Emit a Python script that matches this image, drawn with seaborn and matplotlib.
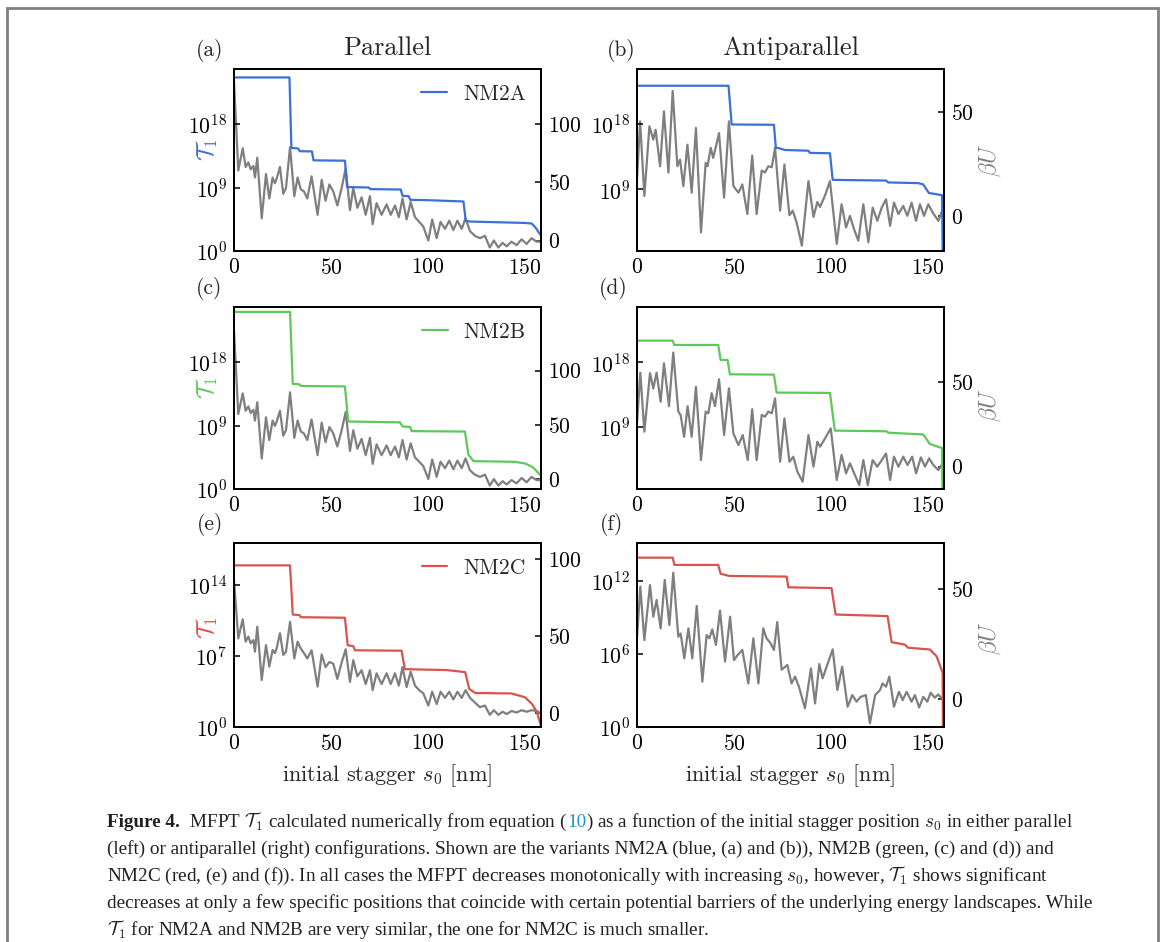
import numpy as np
import pandas as pd
import seaborn as sns
import matplotlib
matplotlib.use("Agg")
import matplotlib.pyplot as plt
from matplotlib.patches import Rectangle
from matplotlib.ticker import FixedLocator, NullLocator, LogFormatterSciNotation

# ---------------- data ----------------
# MFPT T1 step curves (s0 in nm, T1)
s_a = [0, 28.6, 29.6, 33.0, 34.0, 40.2, 41.0, 57.2, 58.3, 69.5, 70.3, 86.0, 86.9, 90.0, 90.9, 100, 118.3, 119.5, 121.5, 150, 153.5, 155.5, 157, 158.3]
T_a = [4.0e24, 4.0e24, 4.0e14, 3.5e14, 1.4e14, 1.3e14, 7.1e12, 6.3e12, 1.15e9, 1.0e9, 5.9e8, 5.2e8, 6.6e7, 6.0e7, 1.8e7, 1.6e7, 1.05e7, 2.0e4, 1.5e4, 9.5e3, 7.9e3, 2.0e3, 5.0e2, 1.6e2]

s_b = [0, 47.2, 48.8, 70.6, 71.6, 73.0, 76.3, 88.3, 89.2, 99.5, 100.9, 128.5, 129.5, 145, 147.5, 150.5, 157.3, 157.7]
T_b = [1.6e23, 1.6e23, 7.9e17, 7.1e17, 5.0e14, 4.5e14, 2.5e14, 2.0e14, 1.0e14, 8.9e13, 2.0e10, 1.6e10, 8.9e9, 7.1e9, 5.0e9, 3.2e8, 1.6e8, 1e-3]

s_c = [0, 28.9, 30.3, 33.5, 34.5, 57.2, 58.9, 85.6, 86.9, 90.8, 91.6, 119.1, 120.8, 122.5, 123.5, 145, 150.3, 154, 158.3]
T_c = [1.26e25, 1.26e25, 7.9e14, 7.1e14, 4.0e14, 3.5e14, 3.7e9, 2.8e9, 7.4e8, 6.3e8, 1.6e8, 1.4e8, 7.9e4, 2.0e4, 8.9e3, 7.1e3, 4.0e3, 1.26e3, 79]

s_d = [0, 18.4, 19.2, 41.9, 43.1, 46.7, 47.9, 70.6, 72.0, 99.5, 102, 128.7, 129.5, 147.6, 151, 157.3, 157.6]
T_d = [1.0e21, 1.0e21, 2.5e20, 2.5e20, 2.0e18, 2.0e18, 2.0e16, 1.8e16, 5.6e13, 5.0e13, 2.7e8, 2.2e8, 1.4e8, 7.9e7, 3.7e6, 1.0e6, 1e-3]

s_e = [0, 28.9, 30.3, 33.8, 34.5, 57.2, 58.6, 61.5, 62.4, 86.4, 88.1, 109.6, 119.2, 121.3, 124.5, 143, 150, 153.6, 156.2, 158.3]
T_e = [7.9e15, 7.9e15, 1.15e11, 1.0e11, 6.3e10, 5.6e10, 1.1e8, 8.9e7, 3.5e7, 3.2e7, 4.9e5, 4.0e5, 2.5e5, 5.5e3, 2.2e3, 2.0e3, 8.5e2, 1.9e2, 29, 1.26]

s_f = [0, 18.4, 19.3, 41.9, 43.1, 47.5, 77.2, 78.0, 100.3, 102.4, 129.2, 131.3, 138.1, 139.8, 151, 154.5, 157.6, 157.8]
T_f = [7.9e13, 7.9e13, 2.0e13, 2.0e13, 3.8e12, 2.5e12, 2.2e12, 2.9e11, 2.5e11, 1.7e9, 1.26e9, 9.1e6, 5.8e6, 3.2e6, 2.3e6, 6.3e5, 2.8e4, 1e-3]

# energy landscapes beta*U (gray)
s_par = [0, 2.2, 4.5, 6.0, 7.4, 8.6, 10.0, 10.8, 12.0, 14.3, 16.5, 18.2, 19.9, 21.1, 22.0, 23.7, 25.4, 26.8, 28.9, 31.1, 32.8, 34.4, 36.1, 37.8, 40.0, 43.1, 45.2, 47.2, 49.2, 51.2, 53.3, 55.5, 57.6, 59.8, 61.5, 63.6, 65.8, 67.9, 70.1, 71.5, 73.5, 76.1, 78.7, 80.8, 83.0, 85.0, 86.9, 89.0, 91.1, 93.3, 95.5, 97.6, 100.2, 102.2, 104.5, 106.5, 108.8, 111.0, 113.1, 115.2, 117.4, 119.4, 121.7, 124.2, 126.8, 129.4, 131.9, 134.0, 136.3, 138.5, 140.6, 143.1, 145.7, 148.3, 150.9, 153.4, 156.0, 158.3]
U_a = [137, 60, 79, 63, 67, 61, 64, 54, 71, 19, 57, 36, 54, 49, 53, 63, 40, 45, 80, 38, 54, 44, 42, 36, 55, 22, 52, 34, 48, 42, 30, 45, 62, 26, 45, 28, 37, 22, 38, 14, 32, 22, 31, 22, 30, 20, 36, 18, 33, 20, 16, 12, 0, 18, 2, 16, 10, 17, 9, 17, 10, 19, 8, 4, 2, 4, -6, 0, -6, -2, -5, -1, -4, 1, -3, 2, -1, -1]
U_c = U_a
U_e = [86.5, 48.7, 61, 46.5, 49.8, 45.4, 47.6, 40, 56.3, 21.6, 44.3, 30.3, 41.1, 39, 42.2, 52, 37.9, 40, 59.4, 35.6, 46.5, 42.2, 39, 35.6, 41, 17.3, 38.2, 30, 33.3, 32.2, 22.3, 33, 41.6, 20.4, 34.5, 24, 28, 19, 28, 15, 26, 19, 26, 19, 26, 18, 30, 17, 27, 18, 15, 13, 5, 14, 6, 14, 10, 14, 9, 14, 10, 15, 10, 7, 4, 5, -1, 2, -1, 1, -0.5, 1.5, 0.5, 2, 1, 2, 1.5, 0]

s_anti_b = [0, 1.6, 3.8, 6.4, 8.4, 9.6, 11.9, 13.9, 16.2, 18.4, 20.8, 22.2, 23.9, 26.0, 28.2, 30.4, 33.0, 35.4, 36.4, 38.0, 39.3, 42.3, 44.9, 47.4, 49.7, 52.3, 54.3, 56.9, 59.4, 61.7, 64.3, 66.0, 67.7, 69.5, 71.2, 73.8, 76.0, 78.6, 80.3, 82.3, 85.0, 88.4, 91.0, 93.0, 94.4, 97.0, 99.5, 103.0, 105.5, 107.8, 109.8, 111.9, 114.1, 116.7, 119.3, 121.5, 123.9, 126.2, 128.4, 130.5, 132.5, 134.8, 137.3, 139.4, 141.6, 143.9, 145.9, 148.0, 150.2, 152.4, 155.4, 157.6]
U_b = [17.6, 45.7, 9.6, 43.3, 36.9, 41.6, 24, 50.5, 20.9, 60.4, 24, 27.2, 14.4, 34.4, 11.2, 42.5, -8, 25.6, 24, 32.9, 28, 40, 8.8, 45.7, 14.4, 11.2, 15.2, 0.9, 29.1, 0.9, 21.9, 21, 24, 23.5, 32.9, 2.5, 24.8, 0.3, 2.5, -3.2, -14.4, 16.8, -0.5, 6.7, 4.3, 10.0, 16.8, -13.6, 5.6, -5.6, 0, -6.4, -12, 5.6, -12.8, 4.0, -2.4, 4.0, 8.0, -4.8, 6.4, 0.9, 4.8, 0, 6.4, -2.4, 5.6, 0, 5.6, 1.7, -2.4, 3.2]

s_anti_d = [0, 1.7, 3.8, 6.7, 8.4, 10.1, 12.2, 13.9, 16.5, 18.7, 21.3, 22.5, 24.3, 26.1, 28.2, 30.4, 33.0, 35.4, 36.8, 38.5, 40.2, 42.3, 44.9, 47.4, 49.7, 52.3, 54.5, 57.1, 59.4, 61.7, 64.3, 66.0, 67.7, 69.5, 71.2, 73.8, 76.0, 78.6, 80.6, 82.7, 85.4, 88.4, 91.0, 93.0, 94.4, 97.0, 99.9, 103.0, 105.5, 107.8, 109.8, 112.0, 114.6, 116.7, 119.0, 121.5, 123.9, 126.2, 128.4, 130.5, 132.5, 134.8, 137.3, 139.5, 141.9, 143.9, 146.4, 148.5, 150.6, 152.8, 155.4, 157.6]
U_d = [25.5, 55.3, 20.6, 55, 46, 55.3, 38.2, 60.8, 35.6, 67.1, 32.4, 30.4, 17.6, 35.6, 17.6, 47, 3.9, 32.4, 31.4, 43.2, 35.6, 51.4, 18.6, 46.1, 19.6, 12.7, 18.6, 3.9, 33.8, 3.9, 30.4, 29.4, 32.4, 31.4, 40.2, 2.9, 28.4, 2.9, 5.9, -2.9, -8.8, 18.6, 0, 14.7, 11.8, 16.7, 22.5, -7.8, 7, -3.9, 2, -3.9, -10.8, 3.9, -10.8, 3.9, 0, 3.9, 7.8, -7.8, 5.9, 0, 5.9, 1, 5.9, -3.9, 5.5, 0, 4.9, 1, -2, 2]

s_anti_f = [0, 1.7, 3.8, 6.7, 8.4, 10.1, 12.2, 14.3, 16.7, 18.7, 21.3, 22.5, 24.4, 26.5, 28.5, 30.8, 33.7, 35.9, 37.3, 38.8, 40.7, 42.8, 45.4, 48.0, 50.0, 51.9, 54.3, 57.4, 60.0, 62.6, 65.1, 66.8, 68.9, 70.6, 72.3, 74.6, 77.5, 79.7, 81.5, 83.5, 86.6, 89.7, 91.8, 94.0, 95.7, 98.1, 100.9, 103.3, 105.8, 108.6, 111.0, 113.2, 115.3, 118.0, 120.1, 122.8, 125.3, 126.6, 128.4, 130.1, 132.5, 135.1, 137.0, 139.0, 141.6, 143.3, 145.5, 147.6, 149.7, 151.4, 153.6, 155.3, 157.6]
U_f = [27.6, 51.1, 26.8, 51.8, 37.4, 45, 32.1, 54.1, 33.6, 57.4, 28.3, 29.8, 18.5, 32.1, 18.5, 42.3, 7.9, 29.1, 27.6, 31.7, 24.6, 40.2, 17, 37.4, 17.7, 20, 22.3, 7.1, 27.6, 7.1, 32.1, 27.6, 25.3, 22.3, 35, 13.3, 15.5, 7.1, 10.2, 5.6, -4.2, 13.9, -2, 15.9, 9.4, 15.5, 22.6, 4.1, 14.7, -3.5, 1.8, -1.2, 1, 1.8, -11, 1.8, 4.1, 7.1, 5.6, 10.2, -3.5, 3.3, -0.5, 3.3, -1.2, 1.8, -3.8, 1, -1.2, 2.9, 0.6, 2.1, -0.2]

variants = ["NM2A", "NM2B", "NM2C"]
line_colors = ["#3d70d6", "#5ec95a", "#d9534f"]
titles = ["Parallel", "Antiparallel"]
panel_letters = ["(a)", "(b)", "(c)", "(d)", "(e)", "(f)"]
xticks = [0, 50, 100, 150]
left_ticks = [[1, 1e9, 1e18], [1, 1e9, 1e18], [1, 1e9, 1e18], [1, 1e9, 1e18], [1, 1e7, 1e14], [1, 1e6, 1e12]]
right_ticks = [[0, 50, 100], [0, 50], [0, 50, 100], [0, 50], [0, 50, 100], [0, 50]]
left_lims = [(1, 10**25.8), (10**0.55, 10**25.5), (1, 10**25.8), (10**0.28, 10**25.7), (1, 10**18.1), (1, 10**15.1)]
right_lims = [(-9, 147), (-17, 71), (-9.2, 158.8), (-13.1, 93.9), (-8.9, 110.6), (-12.7, 70.9)]

T_series = [(s_a, T_a), (s_b, T_b), (s_c, T_c), (s_d, T_d), (s_e, T_e), (s_f, T_f)]
U_series = [(s_par, U_a), (s_anti_b, U_b), (s_par, U_c), (s_anti_d, U_d), (s_par, U_e), (s_anti_f, U_f)]

# ---------------- style ----------------
sns.set_theme(style="white")
plt.rcParams.update({
    "font.family": "serif",
    "font.serif": ["cmr10"],
    "mathtext.fontset": "cm",
    "axes.formatter.use_mathtext": True,
    "axes.unicode_minus": False,
    "xtick.direction": "in",
    "ytick.direction": "in",
    "axes.edgecolor": "black",
    "axes.linewidth": 1.4,
    "xtick.color": "black",
    "ytick.color": "black",
    "lines.solid_joinstyle": "round",
})

W, H = 1165, 942
fig = plt.figure(figsize=(W / 100, H / 100), dpi=100)

def rect(l, t, r, b):
    return [l / W, 1 - b / H, (r - l) / W, (b - t) / H]

cols = [(234, 541), (637, 944)]
rows = [(69, 251), (307, 489), (543, 727)]
letter_pos = [(210, 51), (621, 51), (209, 289), (613, 289), (210, 525), (612, 525)]
left_label_y = [0.555, None, 0.555, None, 0.54, None]
right_label_y = [None, 0.50, None, 0.46, None, 0.48]

TICK_FS = 15.5
gray = "#7f7f7f"

for i in range(6):
    r, c = divmod(i, 2)
    l, rr = cols[c]
    t, b = rows[r]
    ax = fig.add_axes(rect(l, t, rr, b))
    ax2 = ax.twinx()
    color = line_colors[r]

    su, uu = U_series[i]
    sns.lineplot(x=su, y=uu, ax=ax2, color=gray, lw=1.6, estimator=None, sort=False)
    st, tt = T_series[i]
    sns.lineplot(x=st, y=tt, ax=ax, color=color, lw=1.6, estimator=None, sort=False,
                 label=variants[r] if c == 0 else None, legend=False)

    ax.set_zorder(ax2.get_zorder() + 1)
    ax.patch.set_visible(False)

    ax.set_yscale("log")
    ax.set_xlim(0, 158.3)
    ax.set_ylim(*left_lims[i])
    ax2.set_ylim(*right_lims[i])
    ax.yaxis.set_major_locator(FixedLocator(left_ticks[i]))
    ax.yaxis.set_major_formatter(LogFormatterSciNotation())
    ax.yaxis.set_minor_locator(NullLocator())
    ax.xaxis.set_major_locator(FixedLocator(xticks))
    ax2.yaxis.set_major_locator(FixedLocator(right_ticks[i]))
    ax2.yaxis.set_minor_locator(NullLocator())
    ax.tick_params(axis="both", labelsize=TICK_FS, pad=5, length=4, width=1.1)
    ax2.tick_params(axis="y", labelsize=TICK_FS, pad=5, length=4, width=1.1)
    ax.set_xlabel("")
    ax.set_ylabel("")
    ax2.set_ylabel("")
    for a in (ax, ax2):
        for sp in a.spines.values():
            sp.set_linewidth(1.4)
            sp.set_color("black")
    ax.grid(False)
    ax2.grid(False)

    if c == 0:
        ax.set_ylabel(r"$\mathcal{T}_1$", color=color, fontsize=17)
        ax.yaxis.set_label_coords((220 - l) / (rr - l), left_label_y[i])
        ax.legend(loc="upper right", frameon=False, fontsize=TICK_FS,
                  handlelength=1.2, handletextpad=0.75, borderaxespad=0.3)
    else:
        ax2.set_ylabel(r"$\beta U$", color=gray, fontsize=17)
        ax2.yaxis.set_label_coords((977 - l) / (rr - l), right_label_y[i])
    if r == 0:
        ax.text(0.5, 1.05, titles[c], transform=ax.transAxes, ha="center", va="bottom", fontsize=19)
    if r == 2:
        ax.set_xlabel(r"initial stagger $s_0$ [nm]", fontsize=16, labelpad=6)
    lx, ly = letter_pos[i]
    fig.text(lx / W, 1 - ly / H, panel_letters[i], ha="center", va="center", fontsize=15.5)

# border
fig.patches.append(Rectangle((7 / W, -0.1), (1158 - 7) / W, 1.1 - 8 / H, transform=fig.transFigure,
                             fill=False, edgecolor="#808080", lw=2.0, clip_on=False))

# caption
CAP_FS = 13.8
CAP_FAM = "Liberation Serif"
CAP_COL = "#231f20"
renderer = fig.canvas.get_renderer()

def draw_line(y_px, segments):
    x = 107 / W
    for txt, kw in segments:
        props = {"color": CAP_COL}
        props.update(kw)
        tobj = fig.text(x, 1 - y_px / H, txt, fontsize=CAP_FS, family=CAP_FAM, va="baseline", ha="left", **props)
        bb = tobj.get_window_extent(renderer=renderer)
        x += bb.width / W

draw_line(827, [("Figure 4.", {"weight": "bold"}),
                (r"  MFPT $\mathcal{T}_1$ calculated numerically from equation (", {}),
                ("10", {"color": "#1a96d4"}),
                (r") as a function of the initial stagger position $s_0$ in either parallel", {})])
draw_line(854, [("(left) or antiparallel (right) configurations. Shown are the variants NM2A (blue, (a) and (b)), NM2B (green, (c) and (d)) and", {})])
draw_line(881, [(r"NM2C (red, (e) and (f)). In all cases the MFPT decreases monotonically with increasing $s_0$, however, $\mathcal{T}_1$ shows significant", {})])
draw_line(908, [("decreases at only a few specific positions that coincide with certain potential barriers of the underlying energy landscapes. While", {})])
draw_line(935, [(r"$\mathcal{T}_1$ for NM2A and NM2B are very similar, the one for NM2C is much smaller.", {})])

fig.savefig("out.png", dpi=100)
